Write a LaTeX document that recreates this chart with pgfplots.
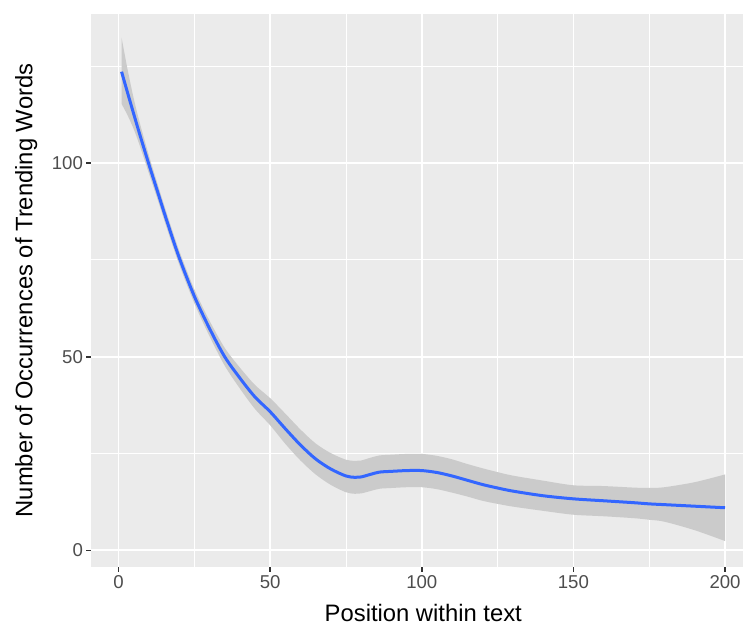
\documentclass[border=0pt]{standalone}
\usepackage{fontspec}
\setmainfont{Liberation Sans}
\usepackage{pgfplots}
\usepackage{pgfplotstable}
\pgfplotsset{compat=1.18}
\usepgfplotslibrary{fillbetween}
\definecolor{ggbg}{HTML}{EBEBEB}
\definecolor{ggband}{HTML}{CBCBCB}
\definecolor{ggblue}{HTML}{3366FF}
\definecolor{ggtick}{HTML}{4D4D4D}
\definecolor{ggtickline}{HTML}{333333}

\pgfplotstableread{
x    fit    lo     hi
1    123.6  115.3  132.4
3    118.1  112.3  124.1
5    112.7  108.8  116.7
7    107.4  104.5  110.4
10   99.7   97.4   102.0
13   92.3   90.3   94.3
16   84.9   83.0   86.8
20   75.6   73.8   77.4
25   65.6   63.8   67.4
30   57.3   55.3   59.3
35   50.0   47.7   52.3
40   44.5   41.8   47.2
45   39.6   36.5   42.7
50   35.8   32.3   39.3
55   31.4   27.5   35.3
60   27.2   23.2   31.2
65   23.6   19.6   27.6
70   21.0   16.9   25.1
75   19.2   15.0   23.4
78   18.85  14.6   23.1
80   18.95  14.7   23.2
83   19.6   15.3   23.9
86   20.2   15.9   24.5
90   20.4   16.1   24.7
95   20.6   16.3   24.9
100  20.6   16.3   24.9
105  20.1   15.8   24.4
110  19.2   14.9   23.5
115  18.1   13.9   22.3
120  17.0   12.8   21.2
125  16.1   12.0   20.2
130  15.3   11.3   19.3
140  14.1   10.2   18.0
150  13.3   9.2    16.8
160  12.8   8.8    16.6
170  12.3   8.3    16.2
175  12.0   7.9    16.1
180  11.8   7.4    16.3
190  11.4   5.2    17.6
200  11.0   2.4    19.6
}\smoothdata

\begin{document}
\begin{tikzpicture}
\begin{axis}[
  at={(0,0)}, anchor=south west,
  scale only axis,
  width=663.8bp, height=553bp,
  xmin=-8.95, xmax=209.95, ymin=-4.3, ymax=138.5,
  axis background/.style={fill=ggbg},
  axis line style={draw=none},
  tick pos=left,
  tick align=outside,
  major tick length=5bp,
  minor tick length=0pt,
  tick style={ggtickline, line width=1.6bp},
  xtick={0,50,100,150,200}, ytick={0,50,100},
  minor xtick={25,75,125,175}, minor ytick={25,75,125},
  grid=both,
  major grid style={white, line width=1.8bp},
  minor grid style={white, line width=0.9bp},
  tick label style={font=\fontsize{18.6bp}{20bp}\selectfont, text=ggtick},
  /pgf/number format/assume math mode=true,
  label style={font=\fontsize{23.8bp}{26bp}\selectfont, text=black},
  xlabel={Position within text},
  ylabel={Number of Occurrences of Trending Words},
  xlabel style={at={(axis description cs:0.5,-0.0989)}, anchor=base},
  ylabel style={at={(axis description cs:-0.0889,0.5)}, anchor=base},
]
\addplot[name path=hi, draw=none, smooth, forget plot] table[x=x, y=hi] {\smoothdata};
\addplot[name path=lo, draw=none, smooth, forget plot] table[x=x, y=lo] {\smoothdata};
\addplot[fill=ggband, draw=none, forget plot] fill between[of=hi and lo];
\addplot[ggblue, line width=3bp, smooth, no markers] table[x=x, y=fit] {\smoothdata};
\end{axis}
\pgfresetboundingbox
\path[use as bounding box] (-91.4bp,-59bp) rectangle (651.6bp,567bp);
\end{tikzpicture}
\end{document}
